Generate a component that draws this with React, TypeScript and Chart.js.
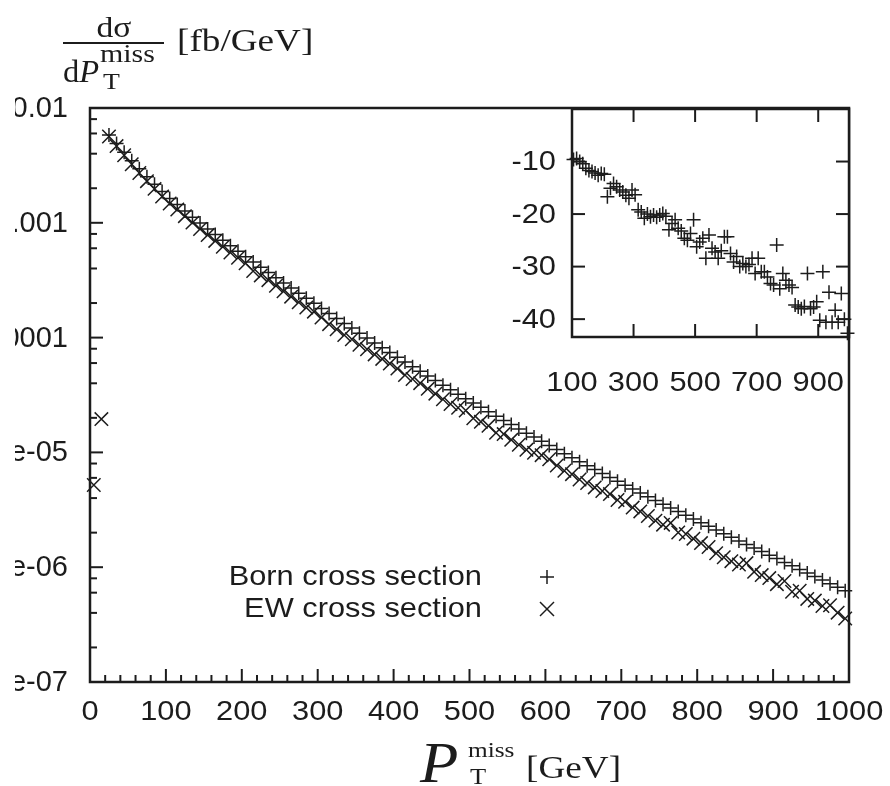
import React, { useEffect, useRef } from "react";
import { Chart, registerables } from "chart.js";

Chart.register(...registerables);

// ---------------- data ----------------
// bin centres of P_T^miss [GeV]
const pTbins = [
  5, 15, 25, 35, 45, 55, 65, 75, 85, 95,
  105, 115, 125, 135, 145, 155, 165, 175, 185, 195,
  205, 215, 225, 235, 245, 255, 265, 275, 285, 295,
  305, 315, 325, 335, 345, 355, 365, 375, 385, 395,
  405, 415, 425, 435, 445, 455, 465, 475, 485, 495,
  505, 515, 525, 535, 545, 555, 565, 575, 585, 595,
  605, 615, 625, 635, 645, 655, 665, 675, 685, 695,
  705, 715, 725, 735, 745, 755, 765, 775, 785, 795,
  805, 815, 825, 835, 845, 855, 865, 875, 885, 895,
  905, 915, 925, 935, 945, 955, 965, 975, 985, 995,
];

// Born cross section [fb/GeV], bins 25 ... 995
const bornCrossSection = [
  5.82e-3, 4.90e-3, 4.12e-3, 3.48e-3, 2.95e-3, 2.52e-3, 2.17e-3, 1.87e-3,
  1.63e-3, 1.44e-3, 1.27e-3, 1.12e-3, 9.95e-4, 8.85e-4, 7.89e-4, 7.05e-4, 6.31e-4, 5.65e-4,
  5.07e-4, 4.56e-4, 4.10e-4, 3.69e-4, 3.32e-4, 2.99e-4, 2.70e-4, 2.43e-4, 2.20e-4, 1.99e-4,
  1.79e-4, 1.62e-4, 1.47e-4, 1.33e-4, 1.21e-4, 1.09e-4, 9.91e-5, 8.99e-5, 8.17e-5, 7.41e-5,
  6.75e-5, 6.14e-5, 5.58e-5, 5.08e-5, 4.63e-5, 4.23e-5, 3.85e-5, 3.52e-5, 3.21e-5, 2.94e-5,
  2.69e-5, 2.47e-5, 2.26e-5, 2.07e-5, 1.90e-5, 1.75e-5, 1.60e-5, 1.47e-5, 1.36e-5, 1.25e-5,
  1.15e-5, 1.06e-5, 9.75e-6, 8.99e-6, 8.30e-6, 7.66e-6, 7.08e-6, 6.55e-6, 6.05e-6, 5.60e-6,
  5.18e-6, 4.79e-6, 4.44e-6, 4.11e-6, 3.81e-6, 3.53e-6, 3.28e-6, 3.05e-6, 2.83e-6, 2.63e-6,
  2.44e-6, 2.27e-6, 2.11e-6, 1.96e-6, 1.82e-6, 1.69e-6, 1.58e-6, 1.47e-6, 1.37e-6, 1.27e-6,
  1.19e-6, 1.10e-6, 1.03e-6, 9.57e-7, 8.91e-7, 8.30e-7, 7.73e-7, 7.19e-7, 6.70e-7, 6.24e-7,
];

// EW cross section below the Born threshold, bins 5 and 15 [fb/GeV]
const ewThresholdValues = [5.2e-6, 1.95e-5];

// relative EW correction [%], bins 25 ... 95 (not shown in the inset)
const ewLowCorrection = [-3, -5, -6, -7, -8, -8.5, -9, -9.3];

// relative EW correction [%] shown in the inset, bins 105 ... 995
const insetCorrection = [
  -9.6, -9.4, -10.0, -10.4, -11.3, -11.7, -11.9, -12.2, -12.6, -12.3,
  -12.4, -16.7, -15.1, -14.2, -14.8, -15.4, -15.8, -16.4, -17.0, -15.4,
  -16.3, -19.2, -19.6, -20.8, -20.0, -20.5, -20.2, -20.6, -20.2, -19.9,
  -20.4, -23.0, -21.8, -21.1, -22.7, -23.2, -24.6, -25.0, -23.7, -21.1,
  -26.2, -25.3, -24.6, -28.4, -24.0, -26.5, -27.2, -28.4, -27.0, -24.3,
  -24.3, -27.5, -29.1, -28.1, -30.0, -29.4, -30.0, -29.6, -28.4, -31.3,
  -28.4, -31.0, -31.0, -32.0, -33.2, -33.5, -25.9, -34.2, -31.3, -32.6,
  -33.5, -34.0, -37.3, -37.7, -38.0, -37.6, -31.3, -38.0, -37.7, -36.7,
  -40.2, -31.0, -40.6, -34.9, -40.6, -38.3, -40.6, -35.1, -40.0, -42.7,
];

// axes / ticks
const mainXTicks = [0, 100, 200, 300, 400, 500, 600, 700, 800, 900, 1000];
const mainXTickLabels = ["0", "100", "200", "300", "400", "500", "600", "700", "800", "900", "1000"];
const mainYTicks = [1e-7, 1e-6, 1e-5, 1e-4, 1e-3, 1e-2];
const mainYTickLabels = ["1e-07", "1e-06", "1e-05", "0.0001", "0.001", "0.01"];
const mainYMinorMultipliers = [2, 4, 6, 8];
const insetXTicks = [100, 300, 500, 700, 900];
const insetXTickLabels = ["100", "300", "500", "700", "900"];
const insetYTicks = [-10, -20, -30, -40];
const insetYTickLabels = ["-10", "-20", "-30", "-40"];
const legendLabels = ["Born cross section", "EW cross section"];

// ---------------- style ----------------
const INK = "#1c1c1c";
const SANS = '"Liberation Sans", Arial, Helvetica, sans-serif';
const SERIF = '"Liberation Serif", "Times New Roman", serif';
const STRETCH = 1.1;

function text(ctx: CanvasRenderingContext2D, s: string, x: number, y: number, align: CanvasTextAlign, font: string, base: CanvasTextBaseline = "alphabetic", sx = STRETCH) {
  ctx.save();
  ctx.font = font;
  ctx.textAlign = align;
  ctx.textBaseline = base;
  ctx.fillStyle = INK;
  ctx.translate(x, y);
  ctx.scale(sx, 1);
  ctx.fillText(s, 0, 0);
  const w = ctx.measureText(s).width * sx;
  ctx.restore();
  return w;
}

function seg(ctx: CanvasRenderingContext2D, x1: number, y1: number, x2: number, y2: number) {
  ctx.beginPath();
  ctx.moveTo(x1, y1);
  ctx.lineTo(x2, y2);
  ctx.stroke();
}

const mainDecor = {
  id: "mainDecor",
  afterDraw(chart: any) {
    const ctx: CanvasRenderingContext2D = chart.ctx;
    const a = chart.chartArea;
    const xs = chart.scales.x;
    const ys = chart.scales.y;
    ctx.save();
    ctx.strokeStyle = INK;
    ctx.lineCap = "butt";
    // ticks
    ctx.lineWidth = 2;
    mainYTicks.forEach((v) => {
      const y = ys.getPixelForValue(v);
      seg(ctx, a.left, y, a.left + 13, y);
    });
    mainYTicks.slice(0, -1).forEach((d) => {
      mainYMinorMultipliers.forEach((m) => {
        const y = ys.getPixelForValue(d * m);
        seg(ctx, a.left, y, a.left + 7, y);
      });
    });
    mainXTicks.forEach((v, i) => {
      const x = xs.getPixelForValue(v);
      seg(ctx, x, a.bottom, x, a.bottom - 13);
      if (i < mainXTicks.length - 1) {
        for (let k = 1; k < 5; k++) {
          const xm = xs.getPixelForValue(v + k * 20);
          seg(ctx, xm, a.bottom, xm, a.bottom - 7);
        }
      }
    });
    // frame
    ctx.lineWidth = 2.5;
    ctx.strokeRect(a.left, a.top, a.right - a.left, a.bottom - a.top);
    ctx.restore();

    // y tick labels (clipped at the left edge like the reference)
    ctx.save();
    ctx.beginPath();
    ctx.rect(15, 0, chart.width, chart.height);
    ctx.clip();
    mainYTicks.forEach((v, i) => {
      text(ctx, mainYTickLabels[i], 68, ys.getPixelForValue(v) + 1, "right", `29px ${SANS}`, "middle", 1.0);
    });
    ctx.restore();

    // x tick labels
    mainXTicks.forEach((v, i) => {
      text(ctx, mainXTickLabels[i], xs.getPixelForValue(v), 720, "center", `28px ${SANS}`);
    });

    // y-axis title:  dσ / dP_T^miss  [fb/GeV]
    text(ctx, "dσ", 114, 37, "center", `30px ${SERIF}`, "alphabetic", 1.12);
    ctx.save();
    ctx.strokeStyle = INK;
    ctx.lineWidth = 1.8;
    seg(ctx, 63, 43, 164, 43);
    ctx.restore();
    const wd = text(ctx, "d", 63, 82, "left", `31px ${SERIF}`, "alphabetic", 1.05);
    text(ctx, "P", 63 + wd, 82, "left", `italic 31px ${SERIF}`, "alphabetic", 1.05);
    text(ctx, "miss", 100, 62, "left", `26px ${SERIF}`, "alphabetic", 1.15);
    text(ctx, "T", 103, 89, "left", `24px ${SERIF}`, "alphabetic", 1.15);
    text(ctx, "[fb/GeV]", 177, 51, "left", `31px ${SERIF}`, "alphabetic", 1.2);

    // x-axis title: P_T^miss [GeV]
    text(ctx, "P", 420, 782, "left", `italic 56px ${SERIF}`, "alphabetic", 1.12);
    text(ctx, "miss", 468, 757, "left", `22px ${SERIF}`, "alphabetic", 1.15);
    text(ctx, "T", 470, 784, "left", `23px ${SERIF}`, "alphabetic", 1.15);
    text(ctx, "[GeV]", 526, 778, "left", `31px ${SERIF}`, "alphabetic", 1.2);

    // legend
    text(ctx, legendLabels[0], 482, 585, "right", `28px ${SANS}`);
    text(ctx, legendLabels[1], 482, 617, "right", `28px ${SANS}`);
    ctx.save();
    ctx.strokeStyle = INK;
    ctx.lineWidth = 1.5;
    seg(ctx, 540, 577, 554, 577);
    seg(ctx, 547, 570, 547, 584);
    seg(ctx, 540, 602, 554, 616);
    seg(ctx, 540, 616, 554, 602);
    ctx.restore();
  },
};

const insetDecor = {
  id: "insetDecor",
  beforeDatasetsDraw(chart: any) {
    const ctx: CanvasRenderingContext2D = chart.ctx;
    const a = chart.chartArea;
    ctx.save();
    ctx.fillStyle = "#fff";
    ctx.fillRect(a.left, a.top, a.right - a.left, a.bottom - a.top);
    ctx.restore();
  },
  afterDraw(chart: any) {
    const ctx: CanvasRenderingContext2D = chart.ctx;
    const a = chart.chartArea;
    const xs = chart.scales.x;
    const ys = chart.scales.y;
    ctx.save();
    ctx.strokeStyle = INK;
    ctx.lineWidth = 2;
    insetYTicks.forEach((v) => {
      const y = ys.getPixelForValue(v);
      seg(ctx, a.left, y, a.left + 13, y);
      seg(ctx, a.right, y, a.right - 13, y);
    });
    insetXTicks.forEach((v) => {
      const x = xs.getPixelForValue(v);
      seg(ctx, x, a.bottom, x, a.bottom - 13);
      seg(ctx, x, a.top, x, a.top + 13);
    });
    ctx.lineWidth = 2.5;
    ctx.strokeRect(a.left, a.top, a.right - a.left, a.bottom - a.top);
    ctx.restore();
    insetYTicks.forEach((v, i) => {
      text(ctx, insetYTickLabels[i], 76, ys.getPixelForValue(v) + 1, "right", `28px ${SANS}`, "middle");
    });
    insetXTicks.forEach((v, i) => {
      text(ctx, insetXTickLabels[i], xs.getPixelForValue(v), 296, "center", `28px ${SANS}`);
    });
  },
};

export default function App() {
  const mainRef = useRef<HTMLCanvasElement>(null);
  const insetRef = useRef<HTMLCanvasElement>(null);

  useEffect(() => {
    const bornPoints = pTbins.slice(2).map((x, i) => ({ x, y: bornCrossSection[i] }));
    const ewPoints = [
      ...ewThresholdValues.map((y, i) => ({ x: pTbins[i], y })),
      ...pTbins.slice(2).map((x, i) => {
        const d = i < ewLowCorrection.length ? ewLowCorrection[i] : insetCorrection[i - ewLowCorrection.length];
        return { x, y: bornCrossSection[i] * (1 + d / 100) };
      }),
    ];
    const insetPoints = pTbins.slice(10).map((x, i) => ({ x, y: insetCorrection[i] }));

    const main = new Chart(mainRef.current!, {
      type: "scatter",
      data: {
        datasets: [
          {
            label: legendLabels[0],
            data: bornPoints,
            pointStyle: "cross",
            pointRadius: 7,
            pointBorderWidth: 1.5,
            borderColor: INK,
            backgroundColor: INK,
            showLine: false,
            clip: false,
          },
          {
            label: legendLabels[1],
            data: ewPoints,
            pointStyle: "crossRot",
            pointRadius: 9.5,
            pointBorderWidth: 1.5,
            borderColor: INK,
            backgroundColor: INK,
            showLine: false,
            clip: false,
          },
        ],
      },
      options: {
        responsive: false,
        animation: false,
        devicePixelRatio: 1,
        events: [],
        layout: { padding: { left: 90, top: 108, right: 41, bottom: 104 } },
        plugins: { legend: { display: false }, tooltip: { enabled: false } },
        scales: {
          x: { type: "linear", min: 0, max: 1000, display: false },
          y: { type: "logarithmic", min: 1e-7, max: 1e-2, display: false },
        },
      },
      plugins: [mainDecor],
    } as any);

    const inset = new Chart(insetRef.current!, {
      type: "scatter",
      data: {
        datasets: [
          {
            label: "relative correction",
            data: insetPoints,
            pointStyle: "cross",
            pointRadius: 7,
            pointBorderWidth: 1.5,
            borderColor: INK,
            backgroundColor: INK,
            showLine: false,
            clip: false,
          },
        ],
      },
      options: {
        responsive: false,
        animation: false,
        devicePixelRatio: 1,
        events: [],
        layout: { padding: { left: 92, top: 14, right: 31, bottom: 68 } },
        plugins: { legend: { display: false }, tooltip: { enabled: false } },
        scales: {
          x: { type: "linear", min: 100, max: 1000, display: false },
          y: { type: "linear", min: -43.4, max: 0, display: false },
        },
      },
      plugins: [insetDecor],
    } as any);

    return () => {
      main.destroy();
      inset.destroy();
    };
  }, []);

  return (
    <div style={{ position: "absolute", left: 0, top: 0, width: 890, height: 786, background: "#fff", overflow: "hidden" }}>
      <canvas ref={mainRef} width={890} height={786} style={{ position: "absolute", left: 0, top: 0 }} />
      <canvas ref={insetRef} width={400} height={310} style={{ position: "absolute", left: 480, top: 95 }} />
    </div>
  );
}
